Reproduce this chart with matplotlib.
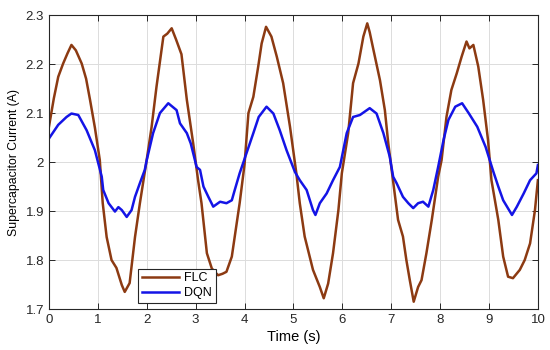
import matplotlib
matplotlib.use('Agg')
from matplotlib import pyplot as plt

# ---------------------------------------------------------------
# Data
t_flc = [0.00, 0.10, 0.19, 0.29, 0.38, 0.46, 0.55, 0.67, 0.76, 0.84, 0.94, 1.04,
         1.10, 1.18, 1.28, 1.38, 1.49, 1.55, 1.65, 1.76, 1.86, 2.00,
         2.10, 2.20, 2.34, 2.42, 2.51, 2.60, 2.71, 2.82, 2.95, 3.05,
         3.12, 3.23, 3.33, 3.40, 3.46, 3.55, 3.63, 3.74, 3.80, 3.90, 4.00,
         4.08, 4.18, 4.28, 4.35, 4.44, 4.55, 4.66, 4.79, 4.93, 5.06,
         5.13, 5.23, 5.30, 5.40, 5.54, 5.62, 5.71, 5.81, 5.92, 5.99,
         6.12, 6.22, 6.33, 6.43, 6.51, 6.56, 6.63, 6.77, 6.87, 6.94, 7.04,
         7.14, 7.24, 7.31, 7.38, 7.46, 7.55, 7.62, 7.72, 7.83, 7.96,
         8.03, 8.13, 8.23, 8.34, 8.44, 8.54, 8.60, 8.68, 8.78, 8.88, 8.98, 9.05,
         9.19, 9.29, 9.39, 9.49, 9.63, 9.73, 9.84, 9.94, 10.00]
v_flc = [2.072, 2.130, 2.174, 2.201, 2.222, 2.239, 2.228, 2.201, 2.170, 2.127, 2.070, 2.004,
         1.916, 1.847, 1.800, 1.784, 1.749, 1.735, 1.753, 1.847, 1.916, 2.005,
         2.072, 2.154, 2.256, 2.262, 2.273, 2.250, 2.220, 2.127, 2.038, 1.963,
         1.916, 1.814, 1.783, 1.775, 1.769, 1.772, 1.776, 1.807, 1.848, 1.916, 1.995,
         2.100, 2.133, 2.195, 2.242, 2.276, 2.256, 2.215, 2.161, 2.072, 1.977,
         1.916, 1.848, 1.820, 1.780, 1.745, 1.722, 1.752, 1.814, 1.902, 1.977,
         2.059, 2.161, 2.201, 2.256, 2.283, 2.265, 2.232, 2.167, 2.106, 2.038, 1.960,
         1.882, 1.848, 1.800, 1.759, 1.715, 1.745, 1.759, 1.814, 1.882, 1.970,
         2.004, 2.092, 2.147, 2.181, 2.215, 2.246, 2.232, 2.239, 2.195, 2.127, 2.045, 1.963,
         1.882, 1.807, 1.766, 1.763, 1.780, 1.800, 1.834, 1.902, 1.963]

t_dqn = [0.00, 0.19, 0.36, 0.46, 0.60, 0.77, 0.94, 1.08,
         1.11, 1.22, 1.35, 1.42, 1.49, 1.59, 1.69, 1.76, 1.86, 1.96,
         2.00, 2.13, 2.27, 2.44, 2.61, 2.68, 2.82, 2.90, 3.02,
         3.09, 3.16, 3.26, 3.36, 3.50, 3.63, 3.74, 3.80, 3.90,
         4.04, 4.18, 4.29, 4.45, 4.59, 4.72, 4.86, 5.03,
         5.13, 5.27, 5.40, 5.45, 5.54, 5.68, 5.81, 5.95,
         6.09, 6.22, 6.36, 6.56, 6.70, 6.84, 6.97, 7.04,
         7.11, 7.24, 7.35, 7.45, 7.55, 7.65, 7.76, 7.86, 7.96,
         8.07, 8.17, 8.31, 8.45, 8.59, 8.76, 8.93, 9.09,
         9.19, 9.29, 9.47, 9.57, 9.71, 9.84, 9.97, 10.00]
v_dqn = [2.048, 2.076, 2.092, 2.099, 2.096, 2.065, 2.024, 1.970,
         1.943, 1.916, 1.899, 1.908, 1.902, 1.888, 1.902, 1.929, 1.957, 1.984,
         2.004, 2.059, 2.100, 2.120, 2.106, 2.079, 2.059, 2.038, 1.990,
         1.984, 1.950, 1.929, 1.909, 1.919, 1.916, 1.922, 1.943, 1.977,
         2.018, 2.059, 2.092, 2.113, 2.099, 2.065, 2.024, 1.980,
         1.963, 1.943, 1.902, 1.892, 1.916, 1.936, 1.963, 1.990,
         2.059, 2.092, 2.096, 2.110, 2.099, 2.059, 2.011, 1.970,
         1.957, 1.929, 1.916, 1.906, 1.916, 1.919, 1.909, 1.943, 1.990,
         2.045, 2.086, 2.113, 2.120, 2.099, 2.072, 2.031, 1.980,
         1.950, 1.922, 1.892, 1.909, 1.936, 1.963, 1.977, 1.994]

x_ticks = [0, 1, 2, 3, 4, 5, 6, 7, 8, 9, 10]
y_ticks = [1.7, 1.8, 1.9, 2.0, 2.1, 2.2, 2.3]
y_labels = ['1.7', '1.8', '1.9', '2', '2.1', '2.2', '2.3']

# ---------------------------------------------------------------
plt.rcParams['font.family'] = ['Liberation Sans', 'DejaVu Sans']

fig = plt.figure(figsize=(5.5, 3.5), dpi=100)
ax = fig.add_axes([0.089, 0.117, 0.889, 0.840])

ax.plot(t_flc, v_flc, color='#8C3A12', lw=1.8, label='FLC')
ax.plot(t_dqn, v_dqn, color='#1414E6', lw=1.8, label='DQN')

ax.set_xlim(0, 10)
ax.set_ylim(1.7, 2.3)
ax.set_xticks(x_ticks)
ax.set_yticks(y_ticks)
ax.set_yticklabels(y_labels)
ax.tick_params(direction='in', top=True, right=True, labelsize=9.5,
               length=4, width=0.7, colors='#262626')
ax.grid(True, color='#DCDCDC', lw=0.7)
for s in ax.spines.values():
    s.set_color('#262626')
    s.set_linewidth(0.8)

ax.set_xlabel('Time (s)', fontsize=10.5, labelpad=3)
ax.set_ylabel('Supercapacitor Current (A)', fontsize=8.8, labelpad=4)

leg = ax.legend(loc='lower left', bbox_to_anchor=(0.182, 0.02), borderaxespad=0,
                fontsize=9, handlelength=3.0, fancybox=False, framealpha=1,
                edgecolor='#262626', borderpad=0.3, labelspacing=0.25, handletextpad=0.4)
leg.get_frame().set_linewidth(0.8)

fig.savefig('out.png', dpi=100)
